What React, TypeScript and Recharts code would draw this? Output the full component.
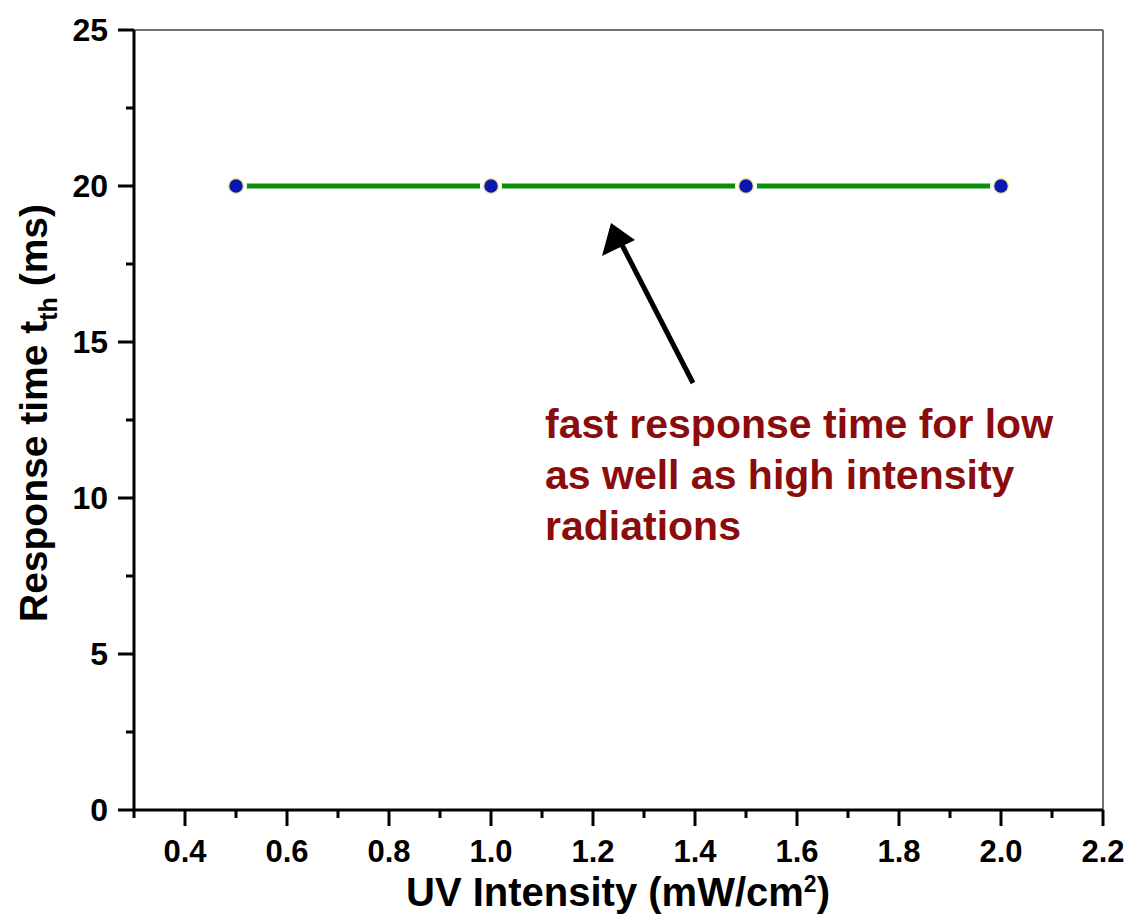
import { LineChart, Line, XAxis, YAxis, ReferenceLine } from 'recharts';

const intensity = [0.5, 1.0, 1.5, 2.0];
const responseTime = [20, 20, 20, 20];
const xMajorTicks = [0.4, 0.6, 0.8, 1.0, 1.2, 1.4, 1.6, 1.8, 2.0, 2.2];
const xMinorTicks = [0.3, 0.5, 0.7, 0.9, 1.1, 1.3, 1.5, 1.7, 1.9, 2.1];
const yMajorTicks = [0, 5, 10, 15, 20, 25];
const yMinorTicks = [2.5, 7.5, 12.5, 17.5, 22.5];
const noteLines = ['fast response time for low', 'as well as high intensity', 'radiations'];

const data = intensity.map((x, i) => ({ x, y: responseTime[i] }));

const FONT = '"Liberation Sans", Arial, sans-serif';

const isMajor = (list: number[], v: number) => list.some((t) => Math.abs(t - v) < 1e-6);

function XTick({ x, y, payload }: any) {
  const major = isMajor(xMajorTicks, payload.value);
  return (
    <g>
      <line x1={x} y1={y} x2={x} y2={y + (major ? 16 : 8)} stroke="#000" strokeWidth={3} />
      {major && (
        <text x={x} y={y + 52} textAnchor="middle" fontFamily={FONT} fontWeight="bold" fontSize={31} fill="#000">
          {payload.value.toFixed(1)}
        </text>
      )}
    </g>
  );
}

function YTick({ x, y, payload }: any) {
  const major = isMajor(yMajorTicks, payload.value);
  return (
    <g>
      <line x1={x} y1={y} x2={x - (major ? 16 : 8)} y2={y} stroke="#000" strokeWidth={3} />
      {major && (
        <text x={x - 26} y={y + 11} textAnchor="end" fontFamily={FONT} fontWeight="bold" fontSize={32} fill="#000">
          {payload.value}
        </text>
      )}
    </g>
  );
}

function Marker({ cx, cy }: any) {
  return (
    <g>
      <circle cx={cx} cy={cy} r={11} fill="#fff" />
      <circle cx={cx} cy={cy} r={7.5} fill="#0b18b0" stroke="#efe9a0" strokeWidth={1.5} />
    </g>
  );
}

export default function App() {
  return (
    <div style={{ position: 'absolute', left: 0, top: 0, width: 1130, height: 921, background: '#fff' }}>
      <LineChart width={1130} height={921} data={data} margin={{ top: 30, right: 27, left: 0, bottom: 0 }}>
        <XAxis
          dataKey="x"
          type="number"
          domain={[0.3, 2.2]}
          ticks={[...xMinorTicks, ...xMajorTicks].sort((a, b) => a - b)}
          interval={0}
          height={111}
          tickSize={0}
          tickMargin={0}
          tickLine={false}
          axisLine={{ stroke: '#000', strokeWidth: 3 }}
          tick={<XTick />}
        />
        <YAxis
          type="number"
          domain={[0, 25]}
          ticks={[...yMinorTicks, ...yMajorTicks].sort((a, b) => a - b)}
          interval={0}
          width={134}
          tickSize={0}
          tickMargin={0}
          tickLine={false}
          axisLine={{ stroke: '#000', strokeWidth: 3 }}
          tick={<YTick />}
        />
        <ReferenceLine y={25} stroke="#444" strokeWidth={1.5} ifOverflow="extendDomain" />
        <ReferenceLine x={2.2} stroke="#444" strokeWidth={1.5} ifOverflow="extendDomain" />
        <Line
          dataKey="y"
          stroke="#0a8f0a"
          strokeWidth={5}
          isAnimationActive={false}
          dot={<Marker />}
          activeDot={false}
        />
      </LineChart>
      <svg width={1130} height={921} style={{ position: 'absolute', left: 0, top: 0, pointerEvents: 'none' }}>
        <text
          transform="translate(47, 413) rotate(-90)"
          textAnchor="middle"
          fontFamily={FONT}
          fontWeight="bold"
          fontSize={39}
          fill="#000"
        >
          Response time t
          <tspan fontSize={25} dy={10}>th</tspan>
          <tspan dy={-10}> (ms)</tspan>
        </text>
        <text x={618} y={906} textAnchor="middle" fontFamily={FONT} fontWeight="bold" fontSize={40} fill="#000">
          UV Intensity (mW/cm
          <tspan fontSize={23} dy={-14}>2</tspan>
          <tspan dy={14}>)</tspan>
        </text>
        {noteLines.map((line, i) => (
          <text key={line} x={545} y={438 + i * 51} fontFamily={FONT} fontWeight="bold" fontSize={41} fill="#8a0c0c">
            {line}
          </text>
        ))}
        <line x1={693} y1={383} x2={621} y2={243} stroke="#000" strokeWidth={5} />
        <polygon points="611,223 602,256 635,240" fill="#000" />
      </svg>
    </div>
  );
}
